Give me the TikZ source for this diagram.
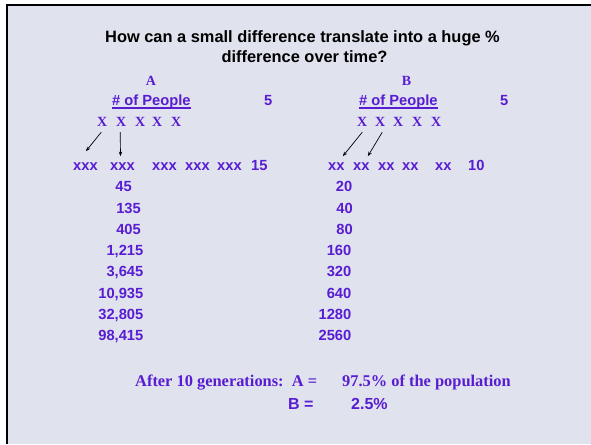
\documentclass[tikz,border=0pt]{standalone}
\usepackage{fontspec}
\setmainfont{Liberation Serif}
\setsansfont{Liberation Sans}
\usetikzlibrary{calc,arrows.meta}
\definecolor{bgc}{RGB}{224,227,238}
\definecolor{purp}{RGB}{88,28,210}
\tikzset{
  sanst/.style={font=\sffamily\bfseries\fontsize{14.7}{17}\selectfont, text=purp, inner sep=0pt, anchor=base west},
  sanse/.style={sanst, anchor=base east},
  seriftxt/.style={font=\rmfamily\bfseries\fontsize{14}{17}\selectfont, text=purp, inner sep=0pt, anchor=base west},
  bigserif/.style={font=\rmfamily\bfseries\fontsize{16.4}{19}\selectfont, text=purp, inner sep=0pt, anchor=base west},
  bigsans/.style={font=\sffamily\bfseries\fontsize{16}{19}\selectfont, text=purp, inner sep=0pt, anchor=base west},
  titletxt/.style={font=\sffamily\bfseries\fontsize{16.4}{19}\selectfont, text=black, inner sep=0pt, anchor=base},
  arr/.style={-{Stealth[length=4.5pt,width=3.5pt]}, line width=0.7pt, black},
  uline/.style={purp, line width=1.6pt}
}
\begin{document}
\begin{tikzpicture}[x=1pt,y=-1pt]
\useasboundingbox (0,0) rectangle (591,444);
\fill[white] (0,0) rectangle (591,444);
\fill[bgc] (7,5) rectangle (591,444);
\draw[black, line width=2.5pt] (7,444) -- (7,5) -- (591,5);

% title
\node[titletxt] (t1) at (302.5,43) {How can a small difference translate into a huge \%};
\node[titletxt] (t2) at (304.5,63) {difference over time?};

% headings
\node[seriftxt, anchor=base] (hA) at (151,85.5) {A};
\node[seriftxt, anchor=base] (hB) at (406.5,85.5) {B};
\node[sanst] (pplA) at (112,105.5) {\# of People};
\node[sanst] (pplB) at (359,105.5) {\# of People};
\draw[uline] ($(pplA.base west)+(0,2.2)$) -- ($(pplA.base east)+(0,2.2)$);
\draw[uline] ($(pplB.base west)+(0,2.2)$) -- ($(pplB.base east)+(0,2.2)$);
\node[sanst] (fiveA) at (264,105.5) {5};
\node[sanst] (fiveB) at (500,105.5) {5};

% X rows
\node[seriftxt] (XA1) at (97,126.5) {X};
\node[seriftxt] (XA2) at (116,126.5) {X};
\node[seriftxt] (XA3) at (135,126.5) {X};
\node[seriftxt] (XA4) at (152,126.5) {X};
\node[seriftxt] (XA5) at (171,126.5) {X};
\node[seriftxt] (XB1) at (357,126.5) {X};
\node[seriftxt] (XB2) at (375,126.5) {X};
\node[seriftxt] (XB3) at (393,126.5) {X};
\node[seriftxt] (XB4) at (412,126.5) {X};
\node[seriftxt] (XB5) at (431,126.5) {X};

% offspring rows
\node[sanst] (xA1) at (73,170.5) {xxx};
\node[sanst] (xA2) at (110,170.5) {xxx};
\node[sanst] (xA3) at (152,170.5) {xxx};
\node[sanst] (xA4) at (185,170.5) {xxx};
\node[sanst] (xA5) at (217,170.5) {xxx};
\node[sanst] (totA) at (251,170.5) {15};
\node[sanst] (xB1) at (328,170.5) {xx};
\node[sanst] (xB2) at (353,170.5) {xx};
\node[sanst] (xB3) at (378,170.5) {xx};
\node[sanst] (xB4) at (402,170.5) {xx};
\node[sanst] (xB5) at (435,170.5) {xx};
\node[sanst] (totB) at (468,170.5) {10};

% arrows
\draw[arr] ($(XA1.south)+(-1,5.5)$) -- ($(xA1.north)+(0.5,-11.4)$);
\draw[arr] ($(XA2.south)+(-1,5.5)$) -- ($(xA2.north)+(-2,-6.4)$);
\draw[arr] ($(XB1.south)+(0,5.5)$) -- ($(xB1.north)+(6.5,-6.4)$);
\draw[arr] ($(XB2.south)+(2,5.5)$) -- ($(xB2.north)+(6.5,-6.4)$);

% column A
\node[sanse] (a1) at (132,191) {45};
\node[sanse] (a2) at (141,213) {135};
\node[sanse] (a3) at (141,234) {405};
\node[sanse] (a4) at (143.5,255) {1,215};
\node[sanse] (a5) at (143.5,276) {3,645};
\node[sanse] (a6) at (143.5,298) {10,935};
\node[sanse] (a7) at (143.5,319) {32,805};
\node[sanse] (a8) at (143.5,340) {98,415};

% column B
\node[sanse] (b1) at (352.5,191) {20};
\node[sanse] (b2) at (353,213) {40};
\node[sanse] (b3) at (353,234) {80};
\node[sanse] (b4) at (351.5,255) {160};
\node[sanse] (b5) at (351.5,276) {320};
\node[sanse] (b6) at (351.5,298) {640};
\node[sanse] (b7) at (351.5,319) {1280};
\node[sanse] (b8) at (351.5,340) {2560};

% summary
\node[bigserif] (sumA) at (135,386.5) {After 10 generations:\ \ A =};
\node[bigserif] (pctA) at (342,386.5) {97.5\% of the population};
\node[bigsans] (sumB) at (288,409) {B =};
\node[bigsans] (pctB) at (351,409) {2.5\%};
\end{tikzpicture}
\end{document}
